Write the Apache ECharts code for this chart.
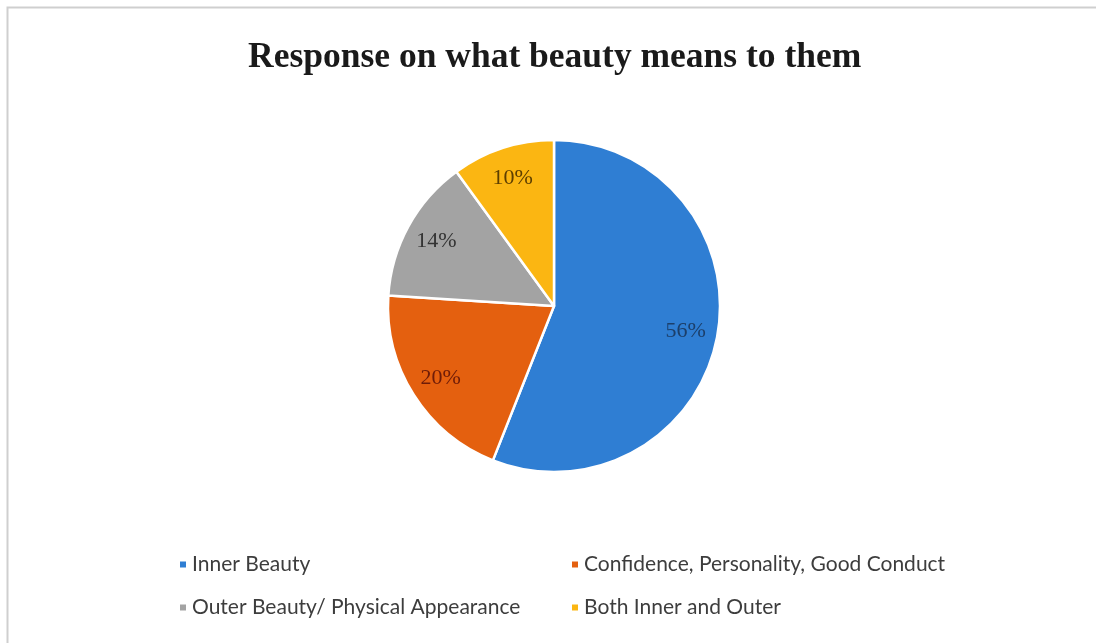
<!DOCTYPE html>
<html>
<head>
<meta charset="utf-8">
<script src="https://cdn.jsdelivr.net/npm/echarts@6/dist/echarts.min.js"></script>
<style>
  html, body { margin: 0; padding: 0; background: #ffffff; }
  #chart { width: 1096px; height: 643px; }
</style>
</head>
<body>
<div id="chart"></div>
<script>
// Survey answers: what beauty means to respondents (share in %)
const categories = [
  'Inner Beauty',
  'Confidence, Personality, Good Conduct',
  'Outer Beauty/ Physical Appearance',
  'Both Inner and Outer'
];
const shares = [56, 20, 14, 10];
const sliceColors = ['#2f7ed3', '#e4600f', '#a3a3a3', '#fbb612'];
const labelColors = ['#1c3f6a', '#6e1c08', '#333333', '#5c3e00'];

const R = 166;
const CENTER = [554, 306];

const pieData = categories.map((name, i) => ({
  name: name,
  value: shares[i],
  itemStyle: { color: sliceColors[i] },
  label: { color: labelColors[i] }
}));

const legendText = {
  fontFamily: 'Lato, "Open Sans", sans-serif',
  fontSize: 21,
  color: '#3d3d3d'
};

const chart = echarts.init(document.getElementById('chart'), null, { renderer: 'canvas' });

chart.setOption({
  backgroundColor: '#ffffff',
  animation: false,
  graphic: [{
    type: 'rect',
    shape: { x: 7.5, y: 7.5, width: 1100, height: 700 },
    style: { fill: 'none', stroke: '#cfcfcf', lineWidth: 2 },
    silent: true
  }],
  title: {
    text: 'Response on what beauty means to them',
    left: 243,
    top: 35,
    textStyle: {
      fontFamily: '"Liberation Serif", "Times New Roman", serif',
      fontWeight: 'bold',
      fontSize: 35.5,
      color: '#1a1a1a'
    }
  },
  legend: [{
    orient: 'vertical',
    left: 173,
    top: 549,
    itemGap: 22,
    icon: 'rect',
    itemWidth: 8,
    itemHeight: 8,
    data: [categories[0], categories[2]],
    textStyle: legendText
  }, {
    orient: 'vertical',
    left: 565,
    top: 549,
    itemGap: 22,
    icon: 'rect',
    itemWidth: 8,
    itemHeight: 8,
    data: [categories[1], categories[3]],
    textStyle: legendText
  }],
  series: [{
    // visible slices
    type: 'pie',
    center: CENTER,
    radius: [0, R],
    startAngle: 90,
    clockwise: true,
    silent: true,
    label: { show: false },
    labelLine: { show: false },
    itemStyle: { borderColor: '#ffffff', borderWidth: 2.5 },
    data: pieData
  }, {
    // transparent ring that carries the percentage labels further out
    type: 'pie',
    center: CENTER,
    radius: [0.58 * R, R],
    startAngle: 90,
    clockwise: true,
    silent: true,
    legendHoverLink: false,
    itemStyle: { color: 'rgba(0,0,0,0)', borderWidth: 0 },
    label: {
      show: true,
      position: 'inside',
      formatter: '{c}%',
      fontFamily: '"Liberation Serif", "Times New Roman", serif',
      fontSize: 22
    },
    labelLine: { show: false },
    data: categories.map((name, i) => ({
      name: name,
      value: shares[i],
      itemStyle: { color: 'rgba(0,0,0,0)' },
      label: { color: labelColors[i] }
    }))
  }]
});
</script>
</body>
</html>
